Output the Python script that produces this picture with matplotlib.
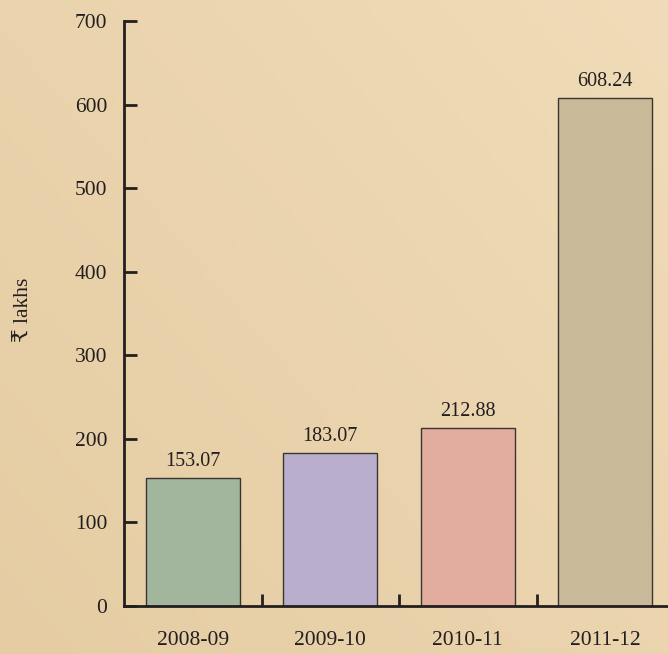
import numpy as np
import matplotlib
matplotlib.use("Agg")
import matplotlib.pyplot as plt
from matplotlib.ticker import FixedLocator

years = ["2008-09", "2009-10", "2010-11", "2011-12"]
amounts = [153.07, 183.07, 212.88, 608.24]
bar_colors = ["#A2B69E", "#B9AFCD", "#E2AC9E", "#C8BA98"]
y_ticks = [0, 100, 200, 300, 400, 500, 600, 700]

plt.rcParams["font.family"] = ["Liberation Serif", "DejaVu Serif", "DejaVu Sans"]

W, H = 668, 654
fig = plt.figure(figsize=(W / 100, H / 100), dpi=100)

# soft parchment background
bg = fig.add_axes([0, 0, 1, 1], zorder=-10)
gx, gy = np.meshgrid(np.linspace(0, 1, 200), np.linspace(0, 1, 200))
t = 0.55 * gx + 0.45 * (1 - gy)
c0 = np.array([229, 204, 163]) / 255
c1 = np.array([240, 220, 184]) / 255
img = c0[None, None, :] * (1 - t[..., None]) + c1[None, None, :] * t[..., None]
bg.imshow(img, aspect="auto", extent=[0, 1, 0, 1], origin="upper")
bg.axis("off")

ax = fig.add_axes([124 / W, 48 / H, 550 / W, 585 / H])
ax.patch.set_alpha(0)

x = np.arange(len(years))
bars = ax.bar(x, amounts, width=0.684, color=bar_colors,
              edgecolor="#3a3530", linewidth=1.0, zorder=2)
for xi, v in zip(x, amounts):
    ax.annotate(f"{v:.2f}", (xi, v), xytext=(0, 5), textcoords="offset points",
                ha="center", va="bottom", fontsize=14.5, color="#231f20")

ax.set_xlim(-0.5, 3.5)
ax.set_ylim(0, 700)

for s in ["top", "right"]:
    ax.spines[s].set_visible(False)
for s in ["left", "bottom"]:
    ax.spines[s].set_linewidth(2.0)
    ax.spines[s].set_color("#231f20")

ax.set_yticks(y_ticks)
ax.set_yticklabels([str(v) for v in y_ticks])
ax.tick_params(axis="y", direction="in", length=9, width=2.0,
               color="#231f20", labelsize=15.5, pad=12, labelcolor="#231f20")

ax.set_xticks(x)
ax.set_xticklabels(years)
ax.tick_params(axis="x", which="major", length=0, labelsize=15.5,
               pad=18, labelcolor="#231f20")
ax.xaxis.set_minor_locator(FixedLocator([0.5, 1.5, 2.5]))
ax.tick_params(axis="x", which="minor", direction="in", length=9,
               width=2.0, color="#231f20")

fig.text(24 / W, 1 - 310 / H, "₹ lakhs", rotation=90, ha="center",
         va="center", fontsize=15.5, color="#231f20")

fig.savefig("out.png", dpi=100)
